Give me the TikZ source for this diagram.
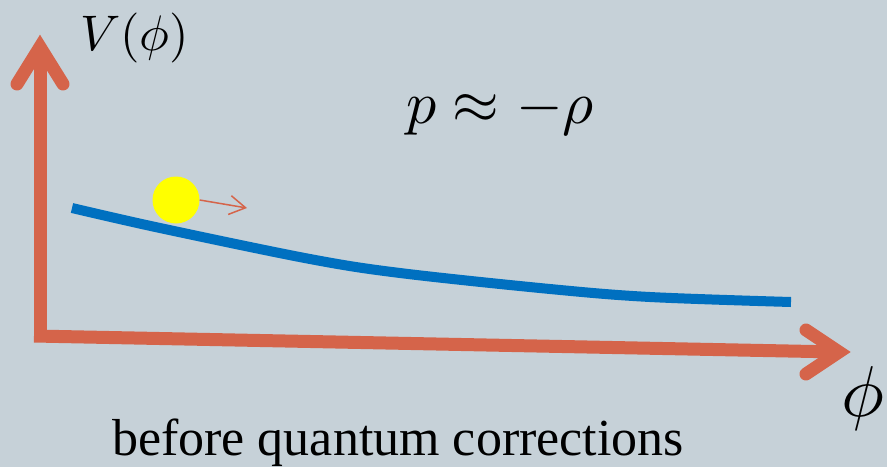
\documentclass[tikz,border=0pt]{standalone}
\usepackage{fontspec}
\usepackage{graphicx}
\setmainfont{Liberation Serif}
\usetikzlibrary{arrows.meta}
\definecolor{bg}{HTML}{C6D1D8}
\definecolor{axisc}{HTML}{D5644A}
\definecolor{curvec}{HTML}{0070C0}
\definecolor{ballc}{HTML}{FFFF00}
\tikzset{
  axisline/.style={draw=axisc, line width=13pt},
  axishead/.style={draw=axisc, line width=13pt, line cap=round, line join=miter},
  potential/.style={draw=curvec, line width=10pt},
  lbl/.style={inner sep=0pt, text=black},
}
\begin{document}
\begin{tikzpicture}[x=1pt,y=-1pt]
\fill[bg] (0,0) rectangle (887,467);
\useasboundingbox (0,0) rectangle (887,467);
% axes
\coordinate (o) at (40,336);
\coordinate (ytip) at (40,47);
\coordinate (xtip) at (839,352);
\draw[axisline] (40,342) -- (ytip);
\draw[axisline] (34,336) -- (xtip);
\draw[axishead] (17,84) -- (ytip) -- (63,84);
\draw[axishead] (806,330) -- (xtip) -- (806,374);
% potential curve
\draw[potential] plot[smooth, tension=0.55] coordinates {(72,208) (160,228) (310,259) (400,273) (550,289) (650,297) (791,302)};
% ball
\node[circle, fill=ballc, minimum size=47pt, inner sep=0pt] (ball) at (176,200) {};
\coordinate (vend) at (247,208);
\draw[draw=axisc, line width=1.5pt, -{Straight Barb[length=16pt,width=19pt,line width=1.5pt]}] (ball.east) -- (vend);
% labels
\node[lbl, anchor=west] (vlab) at (80,38) {\scalebox{5}{$V(\phi)$}};
\node[lbl] (eq) at (500,112) {\scalebox{6}{$p\approx-\rho$}};
\node[lbl] (philab) at (863,398) {\scalebox{7.2}{$\phi$}};
\node[lbl, anchor=base] (cap) at (398,455) {\fontsize{52}{52}\selectfont before quantum corrections};
\end{tikzpicture}
\end{document}
